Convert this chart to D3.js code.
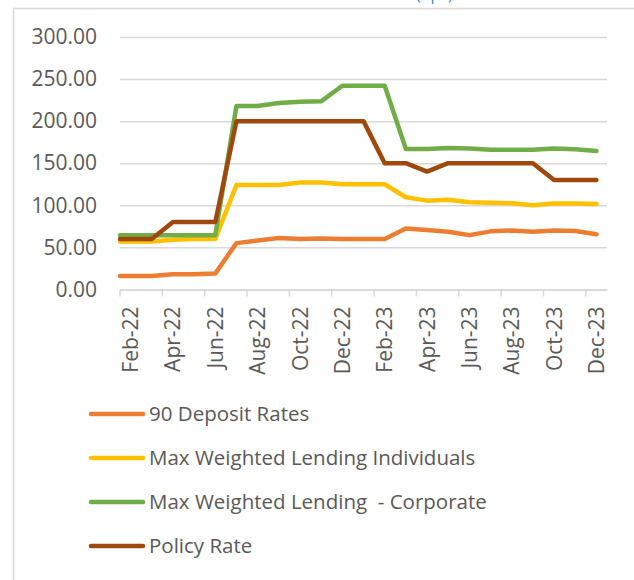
<!DOCTYPE html>
<html>
<head>
<meta charset="utf-8">
<script src="https://cdn.jsdelivr.net/npm/d3@7"></script>
<style>
  html, body { margin: 0; padding: 0; background: #fff; }
  svg { display: block; font-family: "Open Sans", sans-serif; }
</style>
</head>
<body>
<script>
(function(d3) {
  var months = ["Feb-22", "Mar-22", "Apr-22", "May-22", "Jun-22", "Jul-22", "Aug-22", "Sep-22",
    "Oct-22", "Nov-22", "Dec-22", "Jan-23", "Feb-23", "Mar-23", "Apr-23", "May-23", "Jun-23",
    "Jul-23", "Aug-23", "Sep-23", "Oct-23", "Nov-23", "Dec-23"];
  var yTicks = [0, 50, 100, 150, 200, 250, 300];

  var deposit90 = [16, 16, 18, 18, 19, 55, 58, 61, 60, 60.5, 60, 60, 60, 72.5, 70.5, 68.5, 64.5, 69, 70, 68.5, 70, 69.5, 65.5];
  var lendingIndiv = [57, 57, 59, 60, 60, 124, 124, 124, 127, 127, 125, 125, 125, 109.5, 105.5, 106.5, 103.5, 103, 102.5, 100, 102, 102, 101.5];
  var lendingCorp = [64.5, 64.5, 64.5, 64.5, 64.5, 218, 218, 221.5, 223, 223.5, 242, 242, 242, 167, 167, 168, 167.5, 166, 166, 166, 167.5, 166.5, 164.5];
  var policyRate = [60, 60, 80, 80, 80, 200, 200, 200, 200, 200, 200, 200, 150, 150, 140, 150, 150, 150, 150, 150, 130, 130, 130];

  var seriesNames = ["90 Deposit Rates", "Max Weighted Lending Individuals", "Max Weighted Lending  - Corporate", "Policy Rate"];
  var seriesColors = ["#ED7D31", "#FFC000", "#70AD47", "#9E480E"];
  var seriesValues = [deposit90, lendingIndiv, lendingCorp, policyRate];

  var width = 634, height = 580;
  var plot = { left: 120, right: 607, top: 37, bottom: 289.4 };
  var textColor = "#595959";
  var gridColor = "#d9d9d9";

  var svg = d3.select("body").append("svg").attr("width", width).attr("height", height);

  // chart frame (cut off at right and bottom)
  svg.append("rect").attr("x", 13.5).attr("y", 8.5).attr("width", 640).attr("height", 600)
    .attr("fill", "none").attr("stroke", gridColor).attr("stroke-width", 1.5);

  // fragment of caption above the chart
  svg.append("text").attr("x", 416).attr("y", 0).attr("fill", "#2E8BE6")
    .attr("font-size", "16px").text("(bps)");

  var x = d3.scaleBand().domain(months).range([plot.left, plot.right]);
  var y = d3.scaleLinear().domain([0, 300]).range([plot.bottom, plot.top]);
  function cx(m) { return x(m) + x.bandwidth() / 2; }

  // y axis with gridlines
  var yAxis = svg.append("g").attr("transform", "translate(" + plot.left + ",0)")
    .call(d3.axisLeft(y).tickValues(yTicks).tickFormat(d3.format(".2f"))
      .tickSizeInner(-(plot.right - plot.left)).tickSizeOuter(0).tickPadding(23));
  yAxis.select(".domain").remove();
  yAxis.selectAll(".tick line").attr("stroke", gridColor).attr("stroke-width", 1.5);
  yAxis.selectAll(".tick text").attr("fill", textColor).attr("font-size", "21px")
    .attr("font-family", "Open Sans, sans-serif");

  // x axis: tick marks between categories, labels every other month
  var shown = months.filter(function(d, i) { return i % 2 === 0; });
  svg.selectAll(".xtick").data(shown).enter().append("line")
    .attr("class", "xtick")
    .attr("x1", function(d) { return x(d); }).attr("x2", function(d) { return x(d); })
    .attr("y1", plot.bottom).attr("y2", plot.bottom + 7)
    .attr("stroke", gridColor).attr("stroke-width", 1.5);

  var xAxis = svg.append("g").attr("transform", "translate(0," + plot.bottom + ")")
    .call(d3.axisBottom(x).tickValues(shown).tickSize(0).tickPadding(0));
  xAxis.select(".domain").attr("stroke", gridColor).attr("stroke-width", 1.5);
  xAxis.selectAll(".tick text")
    .attr("fill", textColor).attr("font-size", "21px").attr("font-family", "Open Sans, sans-serif")
    .attr("text-anchor", "end")
    .attr("transform", "rotate(-90)")
    .attr("x", -17).attr("y", 0).attr("dy", "0.36em");

  // lines
  var line = d3.line().curve(d3.curveLinear);
  seriesValues.forEach(function(vals, s) {
    var pts = vals.map(function(v, i) { return [cx(months[i]), y(v)]; });
    pts.unshift([plot.left, y(vals[0])]);
    svg.append("path").attr("d", line(pts))
      .attr("fill", "none").attr("stroke", seriesColors[s]).attr("stroke-width", 4.5)
      .attr("stroke-linejoin", "round").attr("stroke-linecap", "round");
  });

  // legend
  var legend = svg.selectAll(".legend").data(seriesNames).enter().append("g")
    .attr("class", "legend")
    .attr("transform", function(d, i) { return "translate(0," + (414 + i * 44) + ")"; });
  legend.append("line").attr("x1", 91).attr("x2", 143).attr("y1", 0).attr("y2", 0)
    .attr("stroke", function(d, i) { return seriesColors[i]; })
    .attr("stroke-width", 4.5).attr("stroke-linecap", "round");
  legend.append("text").attr("x", 149).attr("y", 0).attr("dy", "0.35em")
    .attr("fill", textColor).attr("font-size", "20.5px")
    .style("white-space", "pre")
    .text(function(d) { return d; });
})(d3);
</script>
</body>
</html>
